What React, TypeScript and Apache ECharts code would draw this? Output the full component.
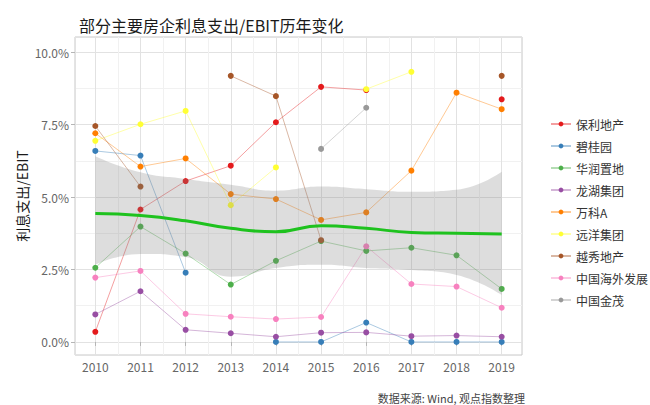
import React, { useEffect, useRef } from "react";
import * as echarts from "echarts";

const years = [2010, 2011, 2012, 2013, 2014, 2015, 2016, 2017, 2018, 2019];
const companies = ["保利地产", "碧桂园", "华润置地", "龙湖集团", "万科A", "远洋集团", "越秀地产", "中国海外发展", "中国金茂"];
const palette = ["#E41A1C", "#377EB8", "#4DAF4A", "#984EA3", "#FF7F00", "#FFFF33", "#A65628", "#F781BF", "#999999"];

const baoli = [0.35, 4.57, 5.55, 6.08, 7.58, 8.8, 8.69, null, null, 8.37];
const biguiyuan = [6.59, 6.43, 2.39, null, 0.0, 0.0, 0.67, 0.0, 0.0, 0.0];
const huarun = [2.56, 3.98, 3.05, 1.98, 2.8, 3.48, 3.14, 3.25, 2.99, 1.83];
const longhu = [0.95, 1.75, 0.42, 0.3, 0.18, 0.32, 0.33, 0.2, 0.22, 0.18];
const wanke = [7.2, 6.05, 6.33, 5.1, 4.93, 4.21, 4.47, 5.91, 8.6, 8.03];
const yuanyang = [6.94, 7.51, 7.97, 4.72, 6.02, null, 8.72, 9.32, null, null];
const yuexiu = [7.45, 5.36, null, 9.18, 8.48, 3.51, null, null, null, 9.18];
const zhonghai = [2.22, 2.45, 0.97, 0.87, 0.79, 0.86, 3.3, 2.0, 1.91, 1.18];
const jinmao = [null, null, null, null, null, 6.66, 8.08, null, null, null];

const trendValues = [4.43, 4.36, 4.18, 3.92, 3.8, 4.01, 3.92, 3.78, 3.75, 3.72];
const bandUpper = [6.41, 5.85, 5.62, 5.42, 5.22, 5.36, 5.27, 5.18, 5.25, 5.87];
const bandLower = [2.66, 3.03, 2.93, 2.25, 2.55, 2.66, 2.55, 2.48, 2.31, 1.62];

const seriesValues = [baoli, biguiyuan, huarun, longhu, wanke, yuanyang, yuexiu, zhonghai, jinmao];

const FONT = '"Noto Sans CJK SC", "Noto Sans", sans-serif';

export default function App() {
  const ref = useRef<HTMLDivElement>(null);
  useEffect(() => {
    const chart = echarts.init(ref.current!, null, { renderer: "svg" });
    const companySeries = companies.map((name, k) => ({
      name,
      type: "line",
      data: years.map((y, i) => [y, seriesValues[k][i] == null ? "-" : seriesValues[k][i]]),
      symbol: "circle",
      symbolSize: 6,
      showSymbol: true,
      connectNulls: false,
      clip: false,
      z: 2,
      itemStyle: { color: palette[k] },
      lineStyle: { color: palette[k], width: 1, opacity: 0.42 },
      emphasis: { disabled: true },
    }));
    const option: any = {
      animation: false,
      textStyle: { fontFamily: FONT },
      title: {
        text: "部分主要房企利息支出/EBIT历年变化",
        left: 74,
        top: 12,
        textStyle: { fontFamily: FONT, fontSize: 16, fontWeight: "normal", color: "#1a1a1a" },
      },
      grid: {
        left: 75,
        right: 128,
        top: 37,
        bottom: 50,
        show: true,
        borderColor: "#c9c9c9",
        borderWidth: 1,
        backgroundColor: "transparent",
      },
      legend: {
        data: companies,
        orient: "vertical",
        left: 545,
        top: 112,
        itemWidth: 20,
        itemHeight: 6,
        itemGap: 8,
        textStyle: { fontFamily: FONT, fontSize: 12, color: "#333", lineHeight: 14 },
      },
      xAxis: {
        type: "value",
        min: 2009.55,
        max: 2019.45,
        minInterval: 1,
        maxInterval: 1,
        axisLine: { show: false },
        axisTick: { show: true, length: 4, lineStyle: { color: "#b5b5b5" } },
        axisLabel: {
          showMinLabel: false,
          showMaxLabel: false,
          margin: 5,
          fontSize: 12,
          color: "#666",
          fontFamily: FONT,
          formatter: (v: number) => String(Math.round(v)),
        },
        splitLine: { show: true, lineStyle: { color: "#e2e2e2", width: 1 } },
        minorTick: { show: false, splitNumber: 2 },
        minorSplitLine: { show: true, lineStyle: { color: "#f1f1f1", width: 1 } },
      },
      yAxis: {
        type: "value",
        min: -0.45,
        max: 10.52,
        minInterval: 2.5,
        maxInterval: 2.5,
        name: "利息支出/EBIT",
        nameLocation: "middle",
        nameRotate: 90,
        nameGap: 46,
        nameMoveOverlap: false,
        nameTextStyle: { fontFamily: FONT, fontSize: 14, color: "#1a1a1a" },
        axisLine: { show: false },
        axisTick: { show: true, length: 4, lineStyle: { color: "#b5b5b5" } },
        axisLabel: {
          showMinLabel: false,
          showMaxLabel: false,
          margin: 6,
          fontSize: 12,
          color: "#666",
          fontFamily: FONT,
          formatter: (v: number) => v.toFixed(1) + "%",
        },
        splitLine: { show: true, lineStyle: { color: "#e2e2e2", width: 1 } },
        minorTick: { show: false, splitNumber: 2 },
        minorSplitLine: { show: true, lineStyle: { color: "#f1f1f1", width: 1 } },
      },
      graphic: [
        {
          type: "text",
          right: 125,
          top: 392,
          style: {
            text: "数据来源: Wind, 观点指数整理",
            fontFamily: FONT,
            fontSize: 11,
            fill: "#444",
          },
        },
      ],
      series: [
        ...companySeries,
        {
          name: "band-lower",
          type: "line",
          stack: "band",
          data: years.map((y, i) => [bandLower[i], y]),
          encode: { x: 1, y: 0 },
          smooth: true,
          symbol: "none",
          lineStyle: { opacity: 0 },
          z: 3,
          silent: true,
        },
        {
          name: "band",
          type: "line",
          stack: "band",
          data: years.map((y, i) => [bandUpper[i] - bandLower[i], y]),
          encode: { x: 1, y: 0 },
          smooth: true,
          symbol: "none",
          lineStyle: { opacity: 0 },
          areaStyle: { color: "rgba(128,128,128,0.38)" },
          z: 3,
          silent: true,
        },
        {
          name: "trend",
          type: "line",
          data: years.map((y, i) => [y, trendValues[i]]),
          smooth: true,
          symbol: "none",
          lineStyle: { color: "#1ec21e", width: 3 },
          z: 4,
          silent: true,
        },
      ],
    };
    chart.setOption(option);
    return () => chart.dispose();
  }, []);
  return (
    <div
      ref={ref}
      style={{ position: "fixed", left: 0, top: 0, width: 650, height: 405, background: "#fff" }}
    />
  );
}
